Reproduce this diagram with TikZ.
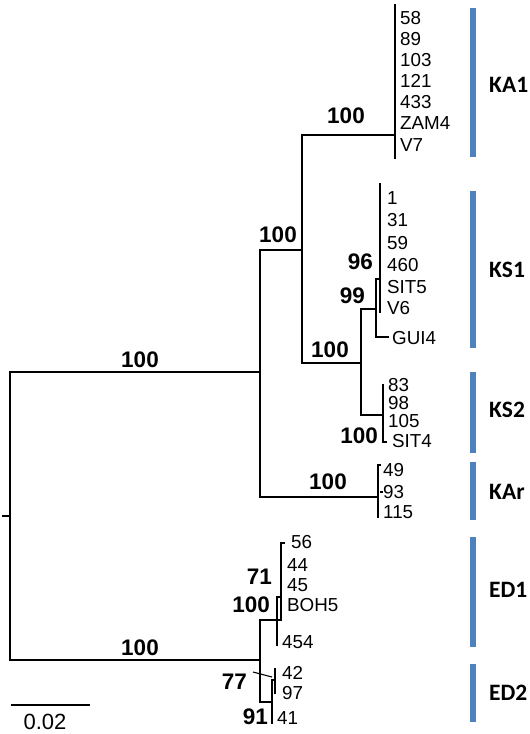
\documentclass[tikz,border=0pt]{standalone}
\usepackage{fontspec}
\setmainfont{Liberation Sans}
\newfontfamily\cladefont{Carlito}
\definecolor{barblue}{HTML}{4F81BD}
\begin{document}
\begin{tikzpicture}[x=1pt,y=-1pt,
  branch/.style={line width=1.8pt, line cap=rect},
  thin/.style={line width=1.1pt},
  leaf/.style={anchor=west, inner sep=0pt, font=\fontsize{18.8}{20}\selectfont},
  boot/.style={anchor=east, inner sep=0pt, font=\fontsize{22.5}{24}\selectfont\bfseries},
  bootc/.style={inner sep=0pt, font=\fontsize{22.5}{24}\selectfont\bfseries},
  clade/.style={anchor=west, inner sep=0pt, font=\cladefont\fontsize{23.5}{25}\selectfont\bfseries},
  cbar/.style={fill=barblue, draw=none}]
\useasboundingbox (0,0) rectangle (530,734);

% tree points
\coordinate (root) at (10,516); \coordinate (rstub) at (3,516);
\coordinate (rt) at (10,372); \coordinate (rb) at (10,660);
\coordinate (B) at (260,372); \coordinate (Bt) at (260,250); \coordinate (Bb) at (260,497);
\coordinate (C) at (302,250); \coordinate (Ct) at (302,135); \coordinate (Cb) at (302,363);
\coordinate (KA1) at (395,135); \coordinate (KA1t) at (395,5); \coordinate (KA1b) at (395,158);
\coordinate (A) at (361,363); \coordinate (At) at (361,309); \coordinate (Ab) at (361,415);
\coordinate (K1) at (376,309); \coordinate (K1t) at (376,279); \coordinate (K1b) at (376,337);
\coordinate (S96) at (380,279); \coordinate (S96t) at (380,184); \coordinate (S96b) at (380,312);
\coordinate (GUI) at (388,337);
\coordinate (KS2) at (383,415); \coordinate (KS2t) at (383,385); \coordinate (KS2b) at (383,442);
\coordinate (KAr) at (378,497); \coordinate (KArt) at (378,465); \coordinate (KArb) at (378,517);
\coordinate (E) at (260,660); \coordinate (Et) at (260,620); \coordinate (Eb) at (260,702);
\coordinate (D1) at (281,620); \coordinate (D1t) at (281,543); \coordinate (D1tk) at (285,543);
\coordinate (D1i) at (277,597); \coordinate (D1ib) at (277,645); \coordinate (D1j) at (281,597);
\coordinate (D2) at (272,702); \coordinate (D2t) at (272,680); \coordinate (D2b) at (272,723);
\coordinate (D2i) at (275,680); \coordinate (D2it) at (275,669); \coordinate (D2ib) at (275,693);
\coordinate (p77a) at (253,672); \coordinate (p77b) at (272,677);
\coordinate (sbl) at (12,705); \coordinate (sbr) at (89,705);

% branches
\draw[branch] (rstub) -- (root);
\draw[branch] (rt) -- (rb);
\draw[branch] (rt) -- (B);
\draw[branch] (Bt) -- (Bb);
\draw[branch] (Bt) -- (C);
\draw[branch] (Ct) -- (Cb);
\draw[branch] (Ct) -- (KA1);
\draw[branch] (KA1t) -- (KA1b);
\draw[branch] (Cb) -- (A);
\draw[branch] (At) -- (Ab);
\draw[branch] (At) -- (K1);
\draw[branch] (K1t) -- (K1b);
\draw[branch] (K1t) -- (S96);
\draw[branch] (S96t) -- (S96b);
\draw[branch] (K1b) -- (GUI);
\draw[branch] (Ab) -- (KS2);
\draw[branch] (KS2t) -- (KS2b);
\draw[branch] (Bb) -- (KAr);
\draw[branch] (KArt) -- (KArb);
\draw[branch] (rb) -- (E);
\draw[branch] (Et) -- (Eb);
\draw[branch] (Et) -- (D1);
\draw[branch] (D1t) -- (D1);
\draw[thin] (D1t) -- (D1tk);
\draw[branch] (D1i) -- (D1ib);
\draw[thin] (D1i) -- (D1j);
\draw[branch] (Eb) -- (D2);
\draw[branch] (D2t) -- (D2b);
\draw[branch] (D2t) -- (D2i);
\draw[branch] (D2it) -- (D2ib);
\draw[thin] (p77a) -- (p77b);
\draw[branch] (sbl) -- (sbr);

% leaf labels
\node[leaf] (l58)  at (400,18)  {58};
\node[leaf] (l89)  at (400,39)  {89};
\node[leaf] (l103) at (400,60)  {103};
\node[leaf] (l121) at (400,81)  {121};
\node[leaf] (l433) at (400,102) {433};
\node[leaf] (lZAM) at (400,123) {ZAM4};
\node[leaf] (lV7)  at (400,145) {V7};
\node[leaf] (l1)   at (387,198) {1};
\node[leaf] (l31)  at (387,220) {31};
\node[leaf] (l59)  at (387,243) {59};
\node[leaf] (l460) at (387,265) {460};
\node[leaf] (lSIT5) at (387,287) {SIT5};
\node[leaf] (lV6)  at (387,308) {V6};
\node[leaf] (lGUI) at (392,338) {GUI4};
\node[leaf] (l83)  at (388,385) {83};
\node[leaf] (l98)  at (388,403) {98};
\node[leaf] (l105) at (388,421) {105};
\node[leaf] (lSIT4) at (392,441) {SIT4};
\node[leaf] (l49)  at (383,470) {49};
\node[leaf] (l93)  at (383,492) {93};
\node[leaf] (l115) at (383,512) {115};
\node[leaf] (l56)  at (291,542) {56};
\node[leaf] (l44)  at (287,565) {44};
\node[leaf] (l45)  at (287,585) {45};
\node[leaf] (lBOH) at (287,605) {BOH5};
\node[leaf] (l454) at (282,642) {454};
\node[leaf] (l42)  at (282,673) {42};
\node[leaf] (l97)  at (282,693) {97};
\node[leaf] (l41)  at (277,718) {41};

% small ticks
\draw[thin] (KArt) -- ++(3,0);
\draw[thin] (l93.west) -- ++(-3,0);
\draw[thin] (KS2b) -- ++(4,0);

% bootstrap values
\node[bootc] (b1) at (140,360) {100};
\node[bootc] (b2) at (278,235) {100};
\node[bootc] (b3) at (346,116) {100};
\node[bootc] (b4) at (330,350) {100};
\node[boot]  (b5) at (373,262) {96};
\node[boot]  (b6) at (365,296) {99};
\node[boot]  (b7) at (378,436) {100};
\node[bootc] (b8) at (328,482) {100};
\node[bootc] (b9) at (140,648) {100};
\node[boot]  (b10) at (272,577) {71};
\node[boot]  (b11) at (270,605) {100};
\node[boot]  (b12) at (247,682) {77};
\node[boot]  (b13) at (268,717) {91};

% scale
\node[inner sep=0pt, font=\fontsize{22}{24}\selectfont] (sc) at (45,722) {0.02};

% clade bars
\fill[cbar] (470,8) rectangle (476,157);
\fill[cbar] (470,191) rectangle (476,348);
\fill[cbar] (470,372) rectangle (476,453);
\fill[cbar] (470,462) rectangle (476,520);
\fill[cbar] (470,537) rectangle (476,647);
\fill[cbar] (470,664) rectangle (476,722);
\node[clade] (cKA1) at (489,85) {KA1};
\node[clade] (cKS1) at (489,270) {KS1};
\node[clade] (cKS2) at (489,410) {KS2};
\node[clade] (cKAr) at (489,492) {KAr};
\node[clade] (cED1) at (489,590) {ED1};
\node[clade] (cED2) at (489,693) {ED2};
\end{tikzpicture}
\end{document}
